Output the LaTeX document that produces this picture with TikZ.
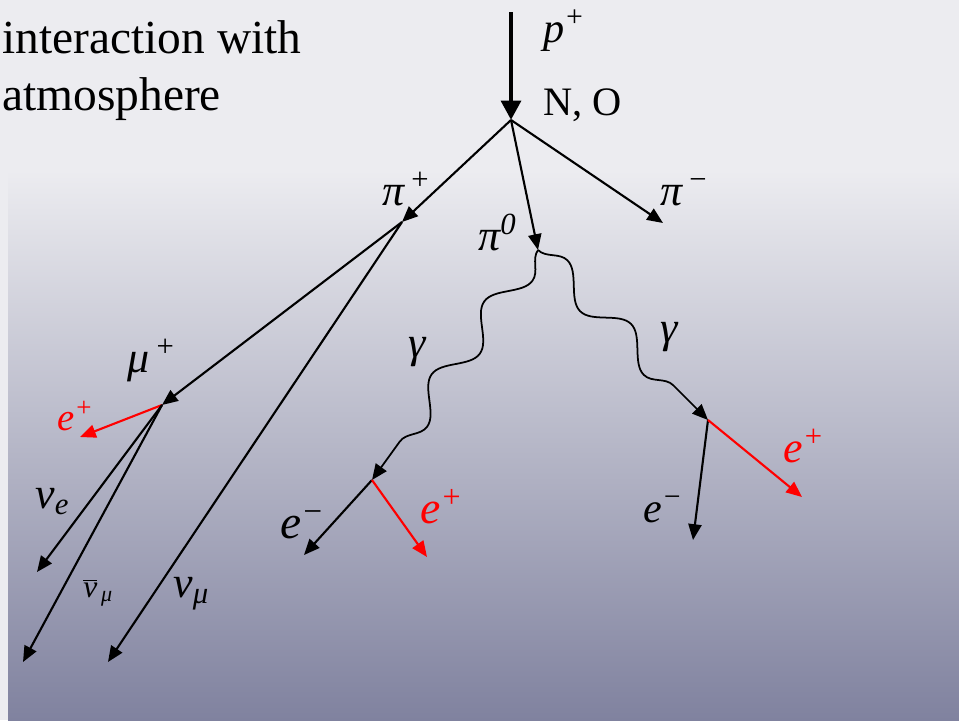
\documentclass[tikz,border=0pt]{standalone}
\usepackage{fontspec}
\setmainfont{Liberation Serif}
\usetikzlibrary{arrows.meta,decorations.pathmorphing}
\definecolor{bgtop}{HTML}{ECECF0}
\definecolor{bgmid}{HTML}{C3C3D7}
\definecolor{bgbot}{HTML}{80829F}
\tikzset{
  track/.style={line width=1.2pt, -{Triangle[length=9pt,width=7.5pt]}},
  positron/.style={track, draw=red, fill=red},
  photon/.style={line width=1pt, -{Triangle[length=9pt,width=7.5pt]}, decorate,
    decoration={snake, segment length=1.8cm, amplitude=0.27cm, post length=0.3cm}},
  lbl/.style={inner sep=0pt, anchor=base west, font=\fontsize{25}{30}\selectfont\itshape},
}
\begin{document}
\begin{tikzpicture}[x=0.02cm, y=-0.02cm]
    \useasboundingbox (0,0) rectangle (959,720);

    % Background: light top, bluish gradient panel
    \fill[bgtop] (0,0) rectangle (959,720);
    \shade[top color=bgtop, middle color=bgmid, bottom color=bgbot] (8,170) rectangle (959,720);

    % Caption (upper left)
    \node[inner sep=0pt, anchor=base west, font=\fontsize{27}{32}\selectfont] (capA) at (2,53) {interaction with};
    \node[inner sep=0pt, anchor=base west, font=\fontsize{27}{32}\selectfont] (capB) at (2,110) {atmosphere};

    % Vertices and free ends
    \coordinate (ptop) at (511,12);
    \coordinate (vtx) at (511,120);
    \coordinate (pip) at (402,222);
    \coordinate (pizero) at (538,250);
    \coordinate (pim) at (663,223);
    \coordinate (mup) at (162,405);
    \coordinate (numu) at (108,662);
    \coordinate (epmu) at (80,437);
    \coordinate (nue) at (37,572);
    \coordinate (numubar) at (23,662);
    \coordinate (gA) at (372,480);
    \coordinate (gB) at (708,420);
    \coordinate (emA) at (304,555);
    \coordinate (epA) at (427,557);
    \coordinate (emB) at (693,540);
    \coordinate (epB) at (802,497);

    % Incoming proton
    \draw[line width=2.8pt, -{Triangle[length=11pt,width=11pt]}] (ptop) -- (vtx);
    \node[lbl, font=\fontsize{24}{28}\selectfont\itshape] (lp) at (543,42) {p\textsuperscript{+}};
    \node[lbl, font=\fontsize{23}{28}\selectfont] (lno) at (543,115) {N, O};

    % Pions
    \draw[track] (vtx) -- (pip);
    \draw[track] (vtx) -- (pizero);
    \draw[track] (vtx) -- (pim);
    \node[lbl] (lpip) at (382,205) {π\textsuperscript{\,+}};
    \node[lbl] (lpizero) at (478,250) {π\textsuperscript{0}};
    \node[lbl] (lpim) at (660,205) {π\textsuperscript{\,−}};

    % Charged pion decay
    \draw[track] (pip) -- (mup);
    \draw[track] (pip) -- (numu);
    \node[lbl] (lmup) at (127,372) {μ\textsuperscript{\,+}};
    \node[lbl] (lnumu) at (173,597) {ν\textsubscript{μ}};

    % Muon decay
    \draw[positron] (mup) -- (epmu);
    \draw[track] (mup) -- (nue);
    \draw[track] (mup) -- (numubar);
    \node[lbl, text=red, font=\fontsize{22}{26}\selectfont\itshape] (lepmu) at (57,430) {e\textsuperscript{+}};
    \node[lbl] (lnue) at (35,508) {ν\textsubscript{e}};
    \node[lbl, font=\fontsize{18}{22}\selectfont\itshape] (lnumubar) at (83,597) {$\overline{\hbox{\itshape ν}}$\textsubscript{\,μ}};

    % Neutral pion to two photons
    \draw[photon] (pizero) -- (gA);
    \draw[photon] (pizero) -- (gB);
    \node[lbl] (lgA) at (408,357) {γ};
    \node[lbl] (lgB) at (660,342) {γ};

    % Pair production
    \draw[track] (gA) -- (emA);
    \draw[positron] (gA) -- (epA);
    \draw[track] (gB) -- (emB);
    \draw[positron] (gB) -- (epB);
    \node[lbl, font=\fontsize{27}{32}\selectfont\itshape] (lemA) at (280,538) {e\textsuperscript{−}};
    \node[lbl, text=red, font=\fontsize{26}{30}\selectfont\itshape] (lepA) at (420,523) {e\textsuperscript{+}};
    \node[lbl, font=\fontsize{24}{28}\selectfont\itshape] (lemB) at (643,522) {e\textsuperscript{−}};
    \node[lbl, text=red, font=\fontsize{25}{30}\selectfont\itshape] (lepB) at (783,462) {e\textsuperscript{+}};

\end{tikzpicture}
\end{document}
